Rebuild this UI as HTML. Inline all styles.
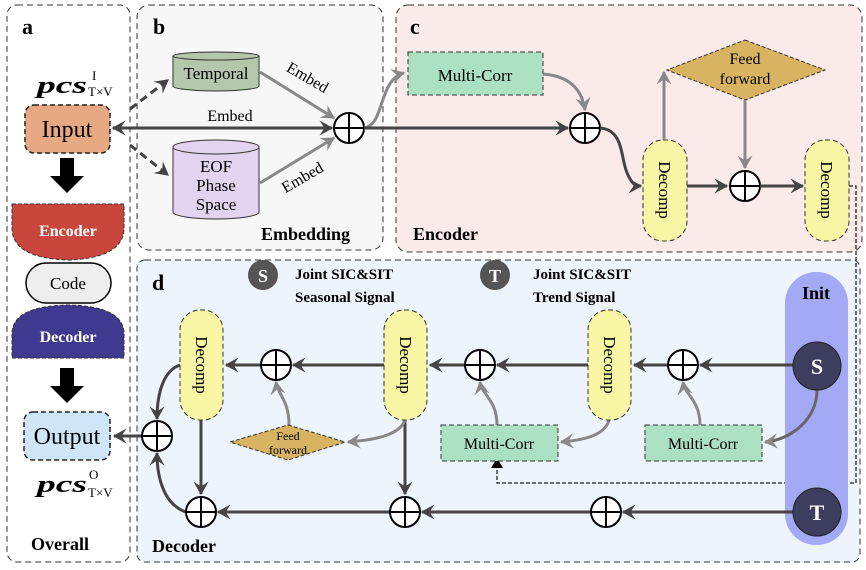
<!DOCTYPE html>
<html><head><meta charset="utf-8"><style>
body{margin:0;background:#fff}
svg{display:block;font-family:"Liberation Serif",serif}
</style></head><body>
<svg width="866" height="570" viewBox="0 0 866 570" xmlns="http://www.w3.org/2000/svg">
<defs>
<marker id="ad" viewBox="0 0 12 12" refX="10" refY="6" markerWidth="5" markerHeight="5" orient="auto" markerUnits="strokeWidth"><path d="M0,0 L11,6 L0,12 L4,6 Z" fill="#444"/></marker>
<marker id="ag" viewBox="0 0 12 12" refX="10" refY="6" markerWidth="5" markerHeight="5" orient="auto" markerUnits="strokeWidth"><path d="M0,0 L11,6 L0,12 L4,6 Z" fill="#888"/></marker>
<g id="plus"><circle r="15" fill="#fff" stroke="#000" stroke-width="2"/><path d="M-15,0H15M0,-15V15" stroke="#000" stroke-width="2"/></g>
</defs>
<!-- panels -->
<rect x="7" y="5" width="123" height="557" rx="10" fill="#fff" stroke="#333" stroke-dasharray="6,4"/>
<rect x="137" y="5" width="246" height="245" rx="12" fill="#f7f7f7" stroke="#333" stroke-dasharray="6,4"/>
<rect x="396" y="5" width="466" height="247" rx="12" fill="#fbeaea" stroke="#333" stroke-dasharray="6,4"/>
<rect x="137" y="260" width="723" height="302" rx="8" fill="#eef4fb" stroke="#333" stroke-dasharray="6,4"/>
<g font-weight="bold" font-size="22"><text x="22" y="34">a</text><text x="153" y="34">b</text><text x="410" y="34">c</text><text x="152" y="290">d</text></g>
<g font-weight="bold" font-size="18"><text x="31" y="550">Overall</text><text x="261" y="240">Embedding</text><text x="413" y="240">Encoder</text><text x="152" y="552">Decoder</text></g>

<!-- panel a -->
<text x="37" y="93" font-size="24" font-weight="bold" font-style="italic" textLength="50" lengthAdjust="spacingAndGlyphs">pcs</text><text x="92" y="80" font-size="13">I</text><text x="88" y="96" font-size="13">T×V</text>
<rect x="25" y="105" width="85" height="48" rx="9" fill="#e7a983" stroke="#222" stroke-dasharray="5,3" stroke-width="1.5"/>
<text x="67" y="137" font-size="24" text-anchor="middle">Input</text>
<path d="M60,158h14v18h10l-17,17l-17,-17h10z" fill="#000"/>
<path d="M12,204H124V228Q124,258 68,260Q12,258 12,228Z" fill="#c9463d" stroke="#333" stroke-dasharray="4,2"/>
<text x="68" y="236" font-size="16" font-weight="bold" fill="#fff" text-anchor="middle">Encoder</text>
<rect x="26" y="263" width="85" height="40" rx="20" fill="#eee" stroke="#000" stroke-width="1.5"/>
<text x="68" y="289" font-size="17" text-anchor="middle">Code</text>
<path d="M12,358H124V334Q124,306 68,305Q12,306 12,334Z" fill="#3f3a8f" stroke="#333" stroke-dasharray="4,2"/>
<text x="68" y="342" font-size="16" font-weight="bold" fill="#fff" text-anchor="middle">Decoder</text>
<path d="M60,368h14v18h10l-17,17l-17,-17h10z" fill="#000"/>
<rect x="24" y="412" width="86" height="48" rx="9" fill="#cfe6f8" stroke="#222" stroke-dasharray="5,3" stroke-width="1.5"/>
<text x="67" y="444" font-size="24" text-anchor="middle">Output</text>
<text x="37" y="492" font-size="24" font-weight="bold" font-style="italic" textLength="50" lengthAdjust="spacingAndGlyphs">pcs</text><text x="89" y="479" font-size="13">O</text><text x="88" y="497" font-size="13">T×V</text>

<!-- panel b -->
<path d="M173,56V86A43,5 0 0 0 259,86V56Z" fill="#b3c7ad" stroke="#333"/><ellipse cx="216" cy="56" rx="43" ry="4" fill="#b3c7ad" stroke="#333"/>
<text x="216" y="79" font-size="17" text-anchor="middle">Temporal</text>
<path d="M173,147V212A43,7 0 0 0 259,212V147Z" fill="#e2d4ee" stroke="#333"/><ellipse cx="216" cy="147" rx="43" ry="7" fill="#e2d4ee" stroke="#333"/>
<text x="216" y="172" font-size="17" text-anchor="middle">EOF</text><text x="216" y="191" font-size="17" text-anchor="middle">Phase</text><text x="216" y="210" font-size="17" text-anchor="middle">Space</text>
<path d="M130,109L168,80" stroke="#444" stroke-width="3" stroke-dasharray="8,5" marker-end="url(#ad)"/>
<path d="M130,145L168,175" stroke="#444" stroke-width="3" stroke-dasharray="8,5" marker-end="url(#ad)"/>
<path d="M260,72L334,118" stroke="#888" stroke-width="3" marker-end="url(#ag)"/>
<path d="M260,183L334,138" stroke="#888" stroke-width="3" marker-end="url(#ag)"/>
<path d="M332,128H113" stroke="#444" stroke-width="3" marker-end="url(#ad)"/>
<path d="M130,128H332" stroke="#444" stroke-width="3" marker-end="url(#ad)"/>
<text x="230" y="121" font-size="16" text-anchor="middle">Embed</text>
<text x="305" y="82" font-size="16" text-anchor="middle" transform="rotate(30 305 82)">Embed</text>
<text x="305" y="182" font-size="16" text-anchor="middle" transform="rotate(-30 305 182)">Embed</text>
<use href="#plus" x="349" y="128"/>

<!-- panel c -->
<path d="M364,128C385,125 378,80 404,73" stroke="#888" stroke-width="3" fill="none" marker-end="url(#ag)"/>
<path d="M364,128H568" stroke="#444" stroke-width="3" marker-end="url(#ad)"/>
<rect x="408" y="52" width="135" height="43" fill="#ace0c2" stroke="#333" stroke-dasharray="5,3"/>
<text x="475" y="81" font-size="17" text-anchor="middle">Multi-Corr</text>
<path d="M543,74C570,76 582,90 585,110" stroke="#888" stroke-width="3" fill="none" marker-end="url(#ag)"/>
<use href="#plus" x="585" y="128"/>
<path d="M600,128C625,130 620,160 628,175C632,184 636,186 641,186" stroke="#444" stroke-width="3" fill="none" marker-end="url(#ad)"/>
<rect x="643" y="140" width="44" height="101" rx="20" fill="#f8f5a4" stroke="#333" stroke-dasharray="5,3"/>
<text transform="translate(659,190) rotate(90)" font-size="17" text-anchor="middle">Decomp</text>
<path d="M745,40L825,70L745,100L667,70Z" fill="#d8b462" stroke="#333" stroke-dasharray="4,2"/>
<text x="745" y="64" font-size="16" text-anchor="middle">Feed</text><text x="745" y="84" font-size="16" text-anchor="middle">forward</text>
<path d="M664,140V72" stroke="#888" stroke-width="3" marker-end="url(#ag)"/>
<path d="M745,100V168" stroke="#888" stroke-width="3" marker-end="url(#ag)"/>
<path d="M687,186H727" stroke="#444" stroke-width="3" marker-end="url(#ad)"/>
<use href="#plus" x="745" y="186"/>
<path d="M760,186H803" stroke="#444" stroke-width="3" marker-end="url(#ad)"/>
<rect x="805" y="140" width="44" height="101" rx="20" fill="#f8f5a4" stroke="#333" stroke-dasharray="5,3"/>
<text transform="translate(821,190) rotate(90)" font-size="17" text-anchor="middle">Decomp</text>
<path d="M849,186H856V483H497V466" stroke="#222" stroke-width="1.3" fill="none" stroke-dasharray="4,2"/>
<path d="M491,468L497,458L503,468Z" fill="#000"/>

<!-- panel d -->
<circle cx="263" cy="275" r="15" fill="#555"/><text x="263" y="282" font-size="18" font-weight="bold" fill="#fff" text-anchor="middle">S</text>
<circle cx="495" cy="275" r="15" fill="#555"/><text x="495" y="282" font-size="18" font-weight="bold" fill="#fff" text-anchor="middle">T</text>
<g font-size="15" font-weight="bold"><text x="295" y="279">Joint SIC&amp;SIT</text><text x="295" y="302">Seasonal Signal</text><text x="533" y="279">Joint SIC&amp;SIT</text><text x="533" y="302">Trend Signal</text></g>
<rect x="785" y="272" width="63" height="273" rx="31" fill="#a3a9f5"/>
<text x="816" y="299" font-size="18" font-weight="bold" text-anchor="middle">Init</text>
<path d="M793,365H700" stroke="#444" stroke-width="3" marker-end="url(#ad)"/>
<path d="M668,365H634" stroke="#444" stroke-width="3" marker-end="url(#ad)"/>
<path d="M588,365H497" stroke="#444" stroke-width="3" marker-end="url(#ad)"/>
<path d="M465,365H430" stroke="#444" stroke-width="3" marker-end="url(#ad)"/>
<path d="M384,365H293" stroke="#444" stroke-width="3" marker-end="url(#ad)"/>
<path d="M261,365H226" stroke="#444" stroke-width="3" marker-end="url(#ad)"/>
<path d="M793,512H623" stroke="#444" stroke-width="3" marker-end="url(#ad)"/>
<path d="M591,512H422" stroke="#444" stroke-width="3" marker-end="url(#ad)"/>
<path d="M390,512H218" stroke="#444" stroke-width="3" marker-end="url(#ad)"/>
<path d="M405,420V494" stroke="#444" stroke-width="3" marker-end="url(#ad)"/>
<path d="M201,420V494" stroke="#444" stroke-width="3" marker-end="url(#ad)"/>
<path d="M180,365C165,370 157,390 157,419" stroke="#444" stroke-width="3" fill="none" marker-end="url(#ad)"/>
<path d="M186,512C165,505 157,480 157,453" stroke="#444" stroke-width="3" fill="none" marker-end="url(#ad)"/>
<path d="M142,436H114" stroke="#444" stroke-width="3" marker-end="url(#ad)"/>
<path d="M817,390C817,420 790,440 765,442" stroke="#666" stroke-width="3" fill="none" marker-end="url(#ag)"/>
<path d="M700,425C700,400 685,395 683,382" stroke="#888" stroke-width="3" fill="none" marker-end="url(#ag)"/>
<path d="M609,420C605,435 585,440 561,442" stroke="#888" stroke-width="3" fill="none" marker-end="url(#ag)"/>
<path d="M497,425C497,400 482,395 480,382" stroke="#888" stroke-width="3" fill="none" marker-end="url(#ag)"/>
<path d="M405,420C400,435 375,440 348,442" stroke="#888" stroke-width="3" fill="none" marker-end="url(#ag)"/>
<path d="M289,425C289,400 278,395 276,382" stroke="#888" stroke-width="3" fill="none" marker-end="url(#ag)"/>
<rect x="180" y="310" width="43" height="110" rx="20" fill="#f8f5a4" stroke="#333" stroke-dasharray="5,3"/>
<text transform="translate(196,365) rotate(90)" font-size="17" text-anchor="middle">Decomp</text>
<rect x="384" y="310" width="43" height="110" rx="20" fill="#f8f5a4" stroke="#333" stroke-dasharray="5,3"/>
<text transform="translate(400,365) rotate(90)" font-size="17" text-anchor="middle">Decomp</text>
<rect x="588" y="310" width="43" height="110" rx="20" fill="#f8f5a4" stroke="#333" stroke-dasharray="5,3"/>
<text transform="translate(604,365) rotate(90)" font-size="17" text-anchor="middle">Decomp</text>
<path d="M288,425L345,442L288,460L230,442Z" fill="#d8b462" stroke="#333" stroke-dasharray="4,2"/>
<text x="288" y="440" font-size="12" text-anchor="middle">Feed</text><text x="288" y="454" font-size="12" text-anchor="middle">forward</text>
<rect x="441" y="425" width="117" height="36" fill="#ace0c2" stroke="#333" stroke-dasharray="5,3"/>
<text x="499" y="449" font-size="16" text-anchor="middle">Multi-Corr</text>
<rect x="645" y="425" width="117" height="36" fill="#ace0c2" stroke="#333" stroke-dasharray="5,3"/>
<text x="703" y="449" font-size="16" text-anchor="middle">Multi-Corr</text>
<use href="#plus" x="276" y="365"/><use href="#plus" x="480" y="365"/><use href="#plus" x="683" y="365"/>
<use href="#plus" x="157" y="436"/><use href="#plus" x="201" y="512"/><use href="#plus" x="405" y="512"/><use href="#plus" x="606" y="512"/>
<circle cx="817" cy="366" r="24" fill="#3d3d5e" stroke="#222"/><text x="817" y="374" font-size="22" font-weight="bold" fill="#fff" text-anchor="middle">S</text>
<circle cx="817" cy="512" r="24" fill="#3d3d5e" stroke="#222"/><text x="817" y="520" font-size="22" font-weight="bold" fill="#fff" text-anchor="middle">T</text>
</svg>
</body></html>
